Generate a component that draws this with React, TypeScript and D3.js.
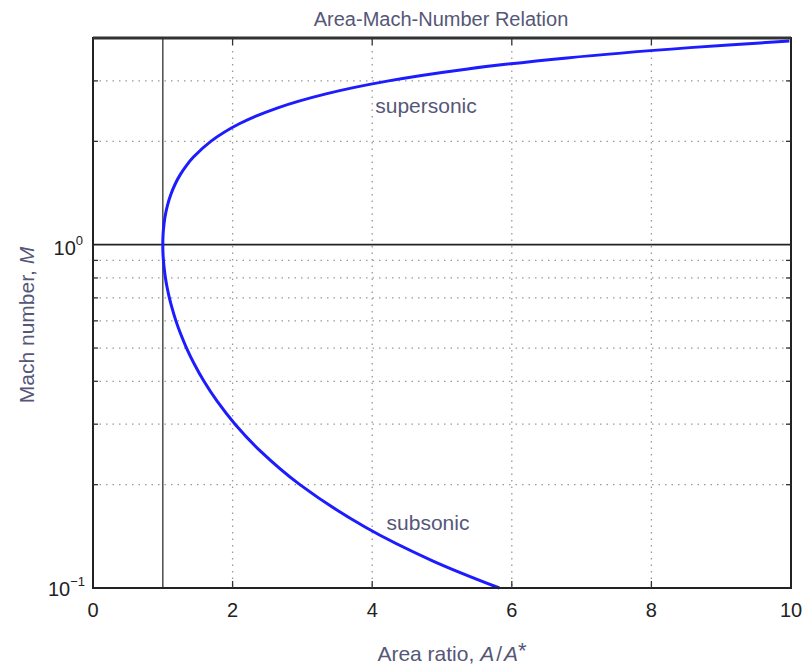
import React from "react";
import * as d3 from "d3";

// Mach numbers and area ratios (subsonic + supersonic branch)
const machValues = [0.1, 0.12, 0.15, 0.2, 0.25, 0.3, 0.35, 0.4, 0.45, 0.5, 0.55, 0.6, 0.65, 0.7, 0.75, 0.8, 0.85, 0.9, 0.95, 1.0, 1.05, 1.1, 1.2, 1.3, 1.4, 1.5, 1.6, 1.7, 1.8, 2.0, 2.25, 2.5, 2.75, 3.0, 3.25, 3.5, 3.75, 3.92];
const areaRatios = [5.822, 4.864, 3.91, 2.964, 2.403, 2.035, 1.778, 1.59, 1.449, 1.34, 1.255, 1.188, 1.136, 1.094, 1.062, 1.038, 1.021, 1.009, 1.002, 1.0, 1.002, 1.008, 1.03, 1.066, 1.115, 1.176, 1.25, 1.338, 1.439, 1.688, 2.096, 2.637, 3.338, 4.235, 5.369, 6.79, 8.552, 9.977];

const xTicks = [0, 2, 4, 6, 8, 10];
const xGrid = [2, 4, 6, 8];
const yGrid = [0.2, 0.3, 0.4, 0.5, 0.6, 0.7, 0.8, 0.9, 2, 3];
const yMinor = [0.2, 0.3, 0.4, 0.5, 0.6, 0.7, 0.8, 0.9, 2, 3];

const W = 806, H = 669;
const L = 93, R = 791, T = 38, B = 588;

export default function App() {
  const x = d3.scaleLinear().domain([0, 10]).range([L, R]);
  const y = d3.scaleLog().domain([0.1, 4]).range([B, T]);
  const pts: [number, number][] = machValues.map((m, i) => [areaRatios[i], m]);
  const line = d3.line<[number, number]>().x(d => x(d[0])).y(d => y(d[1])).curve(d3.curveCatmullRom.alpha(0.5));
  const labelColor = "#555778";
  const font = "Liberation Sans, Arial, sans-serif";
  return (
    <svg width={W} height={H} style={{ position: "absolute", left: 0, top: 0 }} fontFamily={font}>
      <rect x={0} y={0} width={W} height={H} fill="#fff" />
      {/* grid */}
      {xGrid.map(v => (
        <line key={"gx" + v} x1={x(v)} x2={x(v)} y1={T} y2={B} stroke="#999" strokeWidth={1.3} strokeDasharray="1.5,5" />
      ))}
      {yGrid.map(v => (
        <line key={"gy" + v} x1={L} x2={R} y1={y(v)} y2={y(v)} stroke="#999" strokeWidth={1.3} strokeDasharray="1.5,5" />
      ))}
      {/* reference lines */}
      <line x1={x(1)} x2={x(1)} y1={T} y2={B} stroke="#555" strokeWidth={1.6} />
      <line x1={L} x2={R} y1={y(1)} y2={y(1)} stroke="#222" strokeWidth={1.8} />
      {/* curve */}
      <path d={line(pts) || ""} fill="none" stroke="#1c1cff" strokeWidth={3} />
      {/* frame */}
      <rect x={L} y={T} width={R - L} height={B - T} fill="none" stroke="#222" strokeWidth={2} />
      <line x1={L} x2={R} y1={T} y2={T} stroke="#333" strokeWidth={3} />
      {/* ticks */}
      {xGrid.map(v => (
        <g key={"tx" + v}>
          <line x1={x(v)} x2={x(v)} y1={B} y2={B - 7} stroke="#333" strokeWidth={1.3} />
          <line x1={x(v)} x2={x(v)} y1={T} y2={T + 7} stroke="#333" strokeWidth={1.3} />
        </g>
      ))}
      {yMinor.map(v => (
        <g key={"ty" + v}>
          <line x1={L} x2={L + 5} y1={y(v)} y2={y(v)} stroke="#333" strokeWidth={1.3} />
          <line x1={R} x2={R - 5} y1={y(v)} y2={y(v)} stroke="#333" strokeWidth={1.3} />
        </g>
      ))}
      {/* tick labels */}
      {xTicks.map(v => (
        <text key={"lx" + v} x={x(v)} y={617} textAnchor="middle" fontSize={20} fill="#222">{v}</text>
      ))}
      <text x={L - 10} y={y(1) + 10} textAnchor="end" fontSize={20} fill="#222">
        10<tspan dy={-10} fontSize={13}>0</tspan>
      </text>
      <text x={L - 8} y={y(0.1) + 8} textAnchor="end" fontSize={20} fill="#222">
        10<tspan dy={-10} fontSize={13}>−1</tspan>
      </text>
      {/* labels */}
      <text x={441} y={26} textAnchor="middle" fontSize={20} fill={labelColor}>Area-Mach-Number Relation</text>
      <text x={452} y={661} textAnchor="middle" fontSize={21} fill={labelColor}>
        Area ratio, <tspan fontStyle="italic">A</tspan><tspan dx={2}>/</tspan><tspan dx={2} fontStyle="italic">A</tspan><tspan dy={-3} fontSize={22}>*</tspan>
      </text>
      <text transform={`translate(34,325) rotate(-90)`} textAnchor="middle" fontSize={21} fill={labelColor}>
        Mach number, <tspan fontStyle="italic">M</tspan>
      </text>
      <text x={426} y={113} textAnchor="middle" fontSize={21} fill={labelColor}>supersonic</text>
      <text x={428} y={530} textAnchor="middle" fontSize={21} fill={labelColor}>subsonic</text>
    </svg>
  );
}
